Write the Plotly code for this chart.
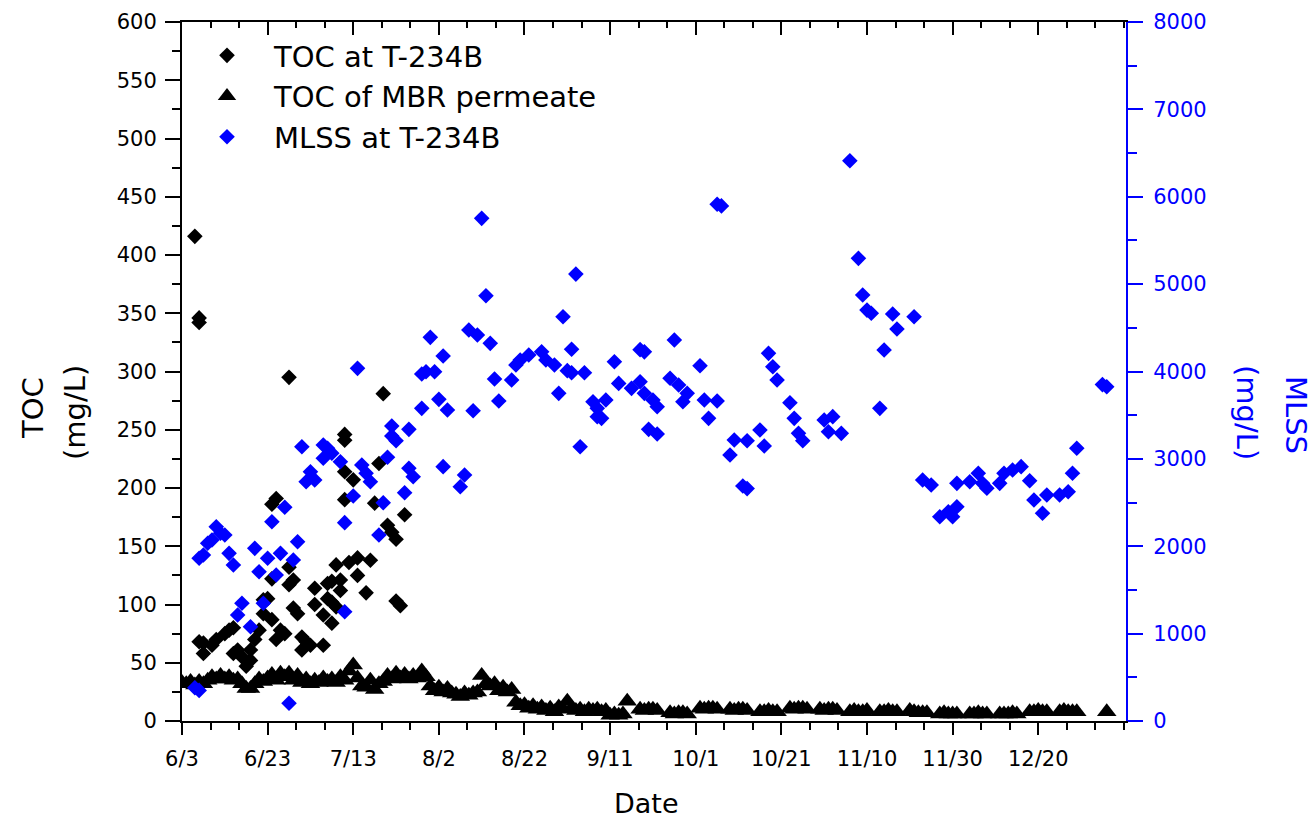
import plotly.graph_objects as go

# ---------------- data (x = days after 3 June) ----------------
tick_days = [0, 20, 40, 60, 80, 100, 120, 140, 160, 180, 200]
tick_labels = ["6/3", "6/23", "7/13", "8/2", "8/22", "9/11", "10/1",
               "10/21", "11/10", "11/30", "12/20"]

# TOC at T-234B (mg/L)
toc_days = [3, 4, 4, 4, 5, 5, 7, 8, 10, 11,
            12, 12, 13, 14, 15, 16, 16, 17, 18, 19,
            19, 20, 21, 21, 21, 22, 22, 23, 24, 25,
            25, 25, 26, 26, 27, 28, 28, 29, 30, 31,
            31, 33, 33, 34, 34, 35, 35, 35, 36, 36,
            37, 37, 38, 38, 38, 38, 39, 40, 41, 41,
            43, 44, 45, 46, 47, 48, 49, 50, 50, 51,
            52]
toc_vals = [416, 346, 342, 68, 67, 58, 65, 70, 75, 78,
            80, 58, 61, 55, 47, 52, 61, 70, 78, 104,
            92, 105, 186, 87, 122, 191, 70, 78, 75, 295,
            132, 117, 121, 97, 92, 72, 61, 68, 65, 114,
            100, 91, 65, 118, 105, 84, 120, 102, 134, 98,
            121, 112, 246, 241, 214, 190, 136, 207, 140, 125,
            110, 138, 187, 221, 281, 168, 162, 156, 103, 99,
            177]

# TOC of MBR permeate (mg/L)
perm_days = [0, 1, 2, 3, 4, 5, 6, 7, 8, 9,
             10, 11, 12, 13, 14, 15, 16, 17, 18, 19,
             20, 21, 22, 23, 24, 25, 26, 27, 28, 29,
             30, 31, 32, 33, 34, 35, 36, 37, 38, 39,
             40, 41, 42, 43, 44, 45, 46, 47, 48, 49,
             50, 51, 52, 53, 54, 55, 56, 57, 58, 59,
             60, 61, 62, 63, 64, 65, 66, 67, 68, 69,
             70, 71, 72, 73, 74, 75, 76, 77, 78, 79,
             80, 81, 82, 83, 84, 85, 86, 87, 88, 89,
             90, 91, 92, 93, 94, 95, 96, 97, 98, 99,
             100, 101, 102, 103, 104, 107, 108, 109, 110, 111,
             114, 115, 116, 117, 118, 121, 122, 123, 124, 125,
             128, 129, 130, 131, 132, 135, 136, 137, 138, 139,
             142, 143, 144, 145, 146, 149, 150, 151, 152, 153,
             156, 157, 158, 159, 160, 163, 164, 165, 166, 167,
             170, 171, 172, 173, 174, 177, 178, 179, 180, 181,
             184, 185, 186, 187, 188, 191, 192, 193, 194, 195,
             198, 199, 200, 201, 202, 205, 206, 207, 208, 209,
             216]
perm_vals = [33, 32, 34, 31, 34, 32, 35, 38, 36, 39,
             36, 38, 35, 36, 32, 28, 28, 32, 36, 34,
             37, 40, 35, 41, 38, 41, 35, 39, 33, 36,
             32, 35, 33, 37, 34, 36, 33, 38, 35, 43,
             48, 37, 30, 29, 35, 27, 32, 34, 39, 36,
             41, 37, 40, 36, 39, 37, 43, 38, 30, 26,
             29, 25, 28, 24, 23, 21, 24, 22, 24, 25,
             39, 32, 30, 32, 26, 29, 25, 27, 16, 13,
             14, 11, 13, 10, 12, 9, 11, 8, 12, 10,
             17, 11, 9, 10, 8, 10, 9, 10, 8, 9,
             5, 6, 5, 6, 17, 10, 9, 10, 10, 9,
             7, 6, 7, 7, 6, 11, 10, 11, 11, 10,
             10, 9, 10, 10, 9, 8, 8, 9, 8, 8,
             11, 10, 11, 11, 10, 10, 9, 10, 10, 9,
             8, 9, 8, 8, 9, 8, 8, 9, 8, 8,
             9, 8, 7, 7, 7, 6, 7, 6, 6, 6,
             6, 6, 7, 6, 6, 6, 6, 6, 7, 6,
             8, 8, 9, 8, 8, 8, 9, 8, 8, 8,
             8]

# MLSS at T-234B (mg/L)
mlss_days = [3, 4, 4, 5, 6, 7, 8, 9, 10, 11,
             12, 13, 14, 16, 17, 18, 19, 20, 21, 22,
             23, 24, 25, 26, 27, 28, 29, 30, 31, 33,
             33, 34, 35, 37, 38, 38, 40, 41, 42, 43,
             44, 46, 47, 48, 49, 49, 50, 52, 53, 53,
             54, 56, 56, 57, 58, 59, 60, 61, 61, 62,
             65, 66, 67, 68, 69, 70, 71, 72, 73, 74,
             77, 78, 79, 81, 84, 85, 87, 88, 89, 90,
             91, 91, 92, 93, 94, 96, 97, 97, 98, 99,
             101, 102, 105, 107, 107, 108, 108, 109, 110, 111,
             111, 114, 115, 116, 117, 118, 121, 122, 123, 125,
             125, 126, 128, 129, 131, 132, 132, 135, 136, 137,
             138, 139, 142, 143, 144, 145, 150, 151, 152, 154,
             156, 158, 159, 160, 161, 163, 164, 166, 167, 171,
             173, 175, 177, 179, 180, 181, 181, 184, 186, 187,
             188, 191, 192, 194, 196, 198, 199, 201, 202, 205,
             207, 208, 209, 215, 216]
mlss_vals = [380, 350, 1862, 1900, 2034, 2071, 2224, 2148, 2129, 1919,
             1785, 1213, 1347, 1079, 1976, 1709, 1347, 1862, 2281, 1671,
             1919, 2446, 203, 1843, 2052, 3139, 2739, 2853, 2758, 3159,
             3007, 3121, 3064, 2967, 1251, 2270, 2575, 4036, 2930, 2835,
             2739, 2129, 2498, 3018, 3262, 3376, 3208, 2613, 3338, 2892,
             2796, 3971, 3578, 3997, 4391, 3997, 3681, 2911, 4177, 3559,
             2681, 2815, 4475, 3551, 4417, 5753, 4867, 4322, 3914, 3662,
             3902, 4074, 4131, 4188, 4226, 4131, 4074, 3750, 4627, 4010,
             3985, 4254, 5115, 3139, 3986, 3654, 3483, 3578, 3464, 3673,
             4112, 3864, 3807, 3883, 4250, 4225, 3750, 3338, 3673, 3597,
             3284, 3922, 4360, 3845, 3654, 3750, 4066, 3673, 3464, 3662,
             5915, 5895, 3044, 3216, 2690, 2660, 3208, 3330, 3147, 4208,
             4055, 3902, 3643, 3464, 3292, 3208, 3445, 3311, 3483, 3292,
             6412, 5295, 4875, 4703, 4666, 3578, 4246, 4658, 4486, 4627,
             2758, 2701, 2338, 2395, 2338, 2452, 2720, 2739, 2835, 2720,
             2663, 2720, 2835, 2872, 2911, 2750, 2529, 2377, 2586, 2586,
             2624, 2835, 3121, 3850, 3825]

assert len(toc_days) == len(toc_vals)
assert len(perm_days) == len(perm_vals)
assert len(mlss_days) == len(mlss_vals)

# ---------------- styling ----------------
W, H = 1315, 823
L, R, T, B = 182, 1126, 22, 721
BLUE = "#0000FF"
FONT = "DejaVu Sans"
X_RANGE = [0, 220.5]
TICK_FS = 21


def px_x(px):
    return (px - L) / (R - L)


def px_y(py):
    return (B - py) / (B - T)


fig = go.Figure()
fig.add_trace(go.Scatter(
    x=toc_days, y=toc_vals, mode="markers", name="TOC at T-234B",
    marker=dict(symbol="diamond", size=12, color="black"),
    xaxis="x", yaxis="y"))
fig.add_trace(go.Scatter(
    x=perm_days, y=perm_vals, mode="markers", name="TOC of MBR permeate",
    marker=dict(symbol="triangle-up", size=17, color="black"),
    xaxis="x", yaxis="y"))
fig.add_trace(go.Scatter(
    x=mlss_days, y=mlss_vals, mode="markers", name="MLSS at T-234B",
    marker=dict(symbol="diamond", size=12, color=BLUE),
    xaxis="x", yaxis="y2"))
# carrier for the top (mirror) axis
fig.add_trace(go.Scatter(x=[], y=[], xaxis="x2", yaxis="y",
                         showlegend=False, hoverinfo="skip"))

fig.update_layout(
    width=W, height=H,
    margin=dict(l=L, r=W - R, t=T, b=H - B, autoexpand=False),
    paper_bgcolor="white", plot_bgcolor="white",
    font=dict(family=FONT, size=TICK_FS, color="black"),
    showlegend=True,
    legend=dict(x=px_x(180), y=px_y(30), xanchor="left", yanchor="top",
                font=dict(family=FONT, size=29, color="black"),
                bgcolor="rgba(0,0,0,0)", borderwidth=0,
                itemwidth=84, tracegroupgap=0),
    xaxis=dict(
        range=X_RANGE, tickmode="array", tickvals=tick_days, ticktext=tick_labels,
        ticks="outside", ticklen=12, tickwidth=2, tickcolor="black",
        ticklabelstandoff=6,
        showline=True, linecolor="black", linewidth=2,
        showgrid=False, zeroline=False,
        tickfont=dict(family=FONT, size=TICK_FS, color="black"),
        minor=dict(ticks="outside", ticklen=7, tickwidth=2, tickcolor="black",
                   tickmode="linear", tick0=0, dtick=20 / 3, showgrid=False)),
    xaxis2=dict(
        overlaying="x", side="top", anchor="y",
        range=X_RANGE, tickmode="array", tickvals=tick_days,
        showticklabels=False,
        ticks="inside", ticklen=13, tickwidth=2, tickcolor="black",
        showline=True, linecolor="black", linewidth=2,
        showgrid=False, zeroline=False,
        minor=dict(ticks="inside", ticklen=6, tickwidth=2, tickcolor="black",
                   tickmode="linear", tick0=0, dtick=20 / 3, showgrid=False)),
    yaxis=dict(
        range=[0, 600], tickmode="linear", tick0=0, dtick=50,
        ticks="outside", ticklen=15, tickwidth=2, tickcolor="black",
        ticklabelstandoff=4,
        showline=True, linecolor="black", linewidth=2,
        showgrid=False, zeroline=False,
        tickfont=dict(family=FONT, size=TICK_FS, color="black"),
        minor=dict(ticks="outside", ticklen=8, tickwidth=2, tickcolor="black",
                   tickmode="linear", tick0=0, dtick=25, showgrid=False)),
    yaxis2=dict(
        overlaying="y", side="right", anchor="x",
        range=[0, 8000], tickmode="linear", tick0=0, dtick=1000,
        ticks="outside", ticklen=15, tickwidth=2, tickcolor=BLUE,
        ticklabelstandoff=6,
        showline=True, linecolor=BLUE, linewidth=2,
        showgrid=False, zeroline=False,
        tickfont=dict(family=FONT, size=TICK_FS, color=BLUE),
        minor=dict(ticks="outside", ticklen=9, tickwidth=2, tickcolor=BLUE,
                   tickmode="linear", tick0=0, dtick=500, showgrid=False)),
)

ann_font = dict(family=FONT, size=29, color="black")
ann_font_b = dict(family=FONT, size=29, color=BLUE)
annotations = [
    dict(text="TOC", x=px_x(33), y=px_y(408), textangle=-90, font=ann_font),
    dict(text="(mg/L)", x=px_x(75), y=px_y(413), textangle=-90, font=ann_font),
    dict(text="MLSS", x=px_x(1296), y=px_y(415), textangle=90, font=ann_font_b),
    dict(text="(mg/L)", x=px_x(1247), y=px_y(412), textangle=90, font=ann_font_b),
    dict(text="Date", x=px_x(646), y=px_y(803), textangle=0,
         font=dict(family=FONT, size=27, color="black")),
]
for a in annotations:
    fig.add_annotation(xref="paper", yref="paper", showarrow=False,
                       xanchor="center", yanchor="middle", **a)

fig.write_html("out.html")
